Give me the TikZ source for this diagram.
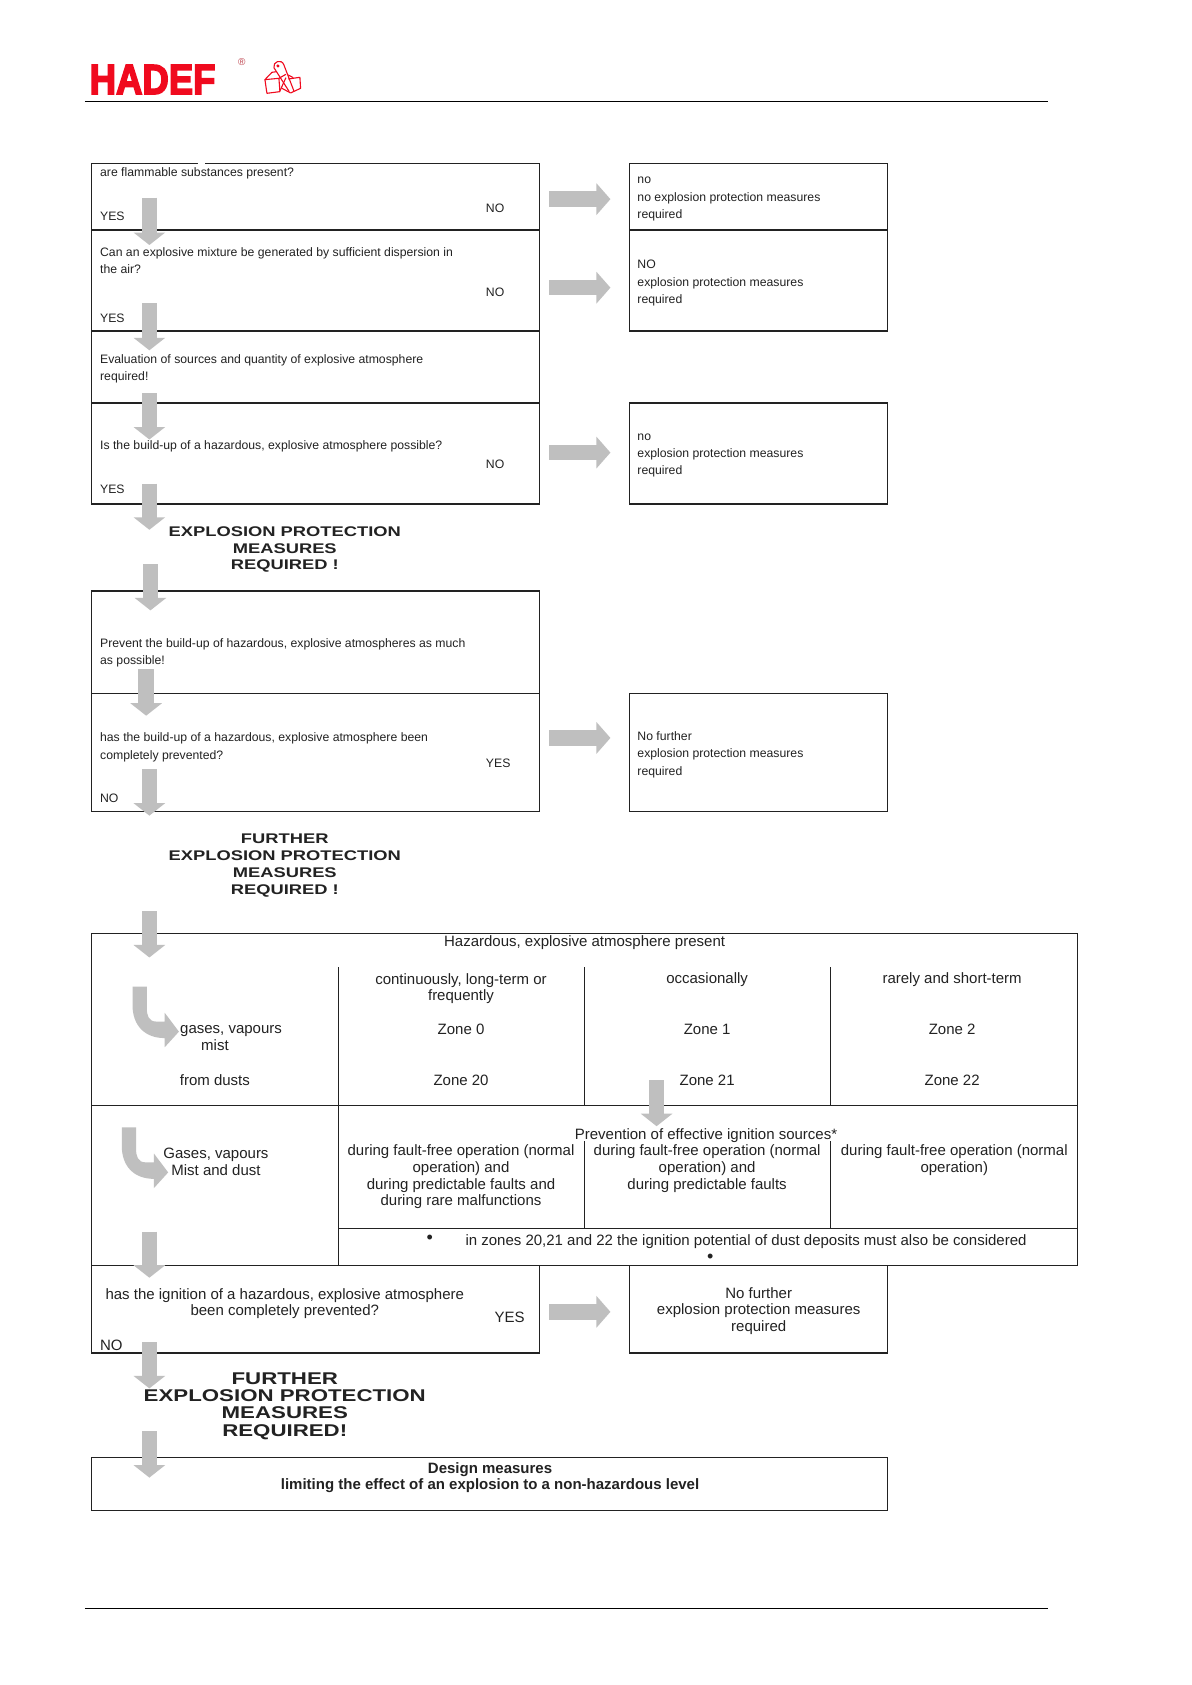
\documentclass[tikz,border=0pt]{standalone}
\usepackage{fontspec}
\setmainfont{Liberation Sans}
\newfontfamily\logofont{Liberation Sans}[BoldFeatures={FakeBold=4}]
\usetikzlibrary{fit,arrows.meta}
\definecolor{inkc}{HTML}{222222}
\definecolor{arrc}{HTML}{BFBFBF}
\definecolor{logoc}{HTML}{F00A1E}
\tikzset{
  boxn/.style={draw=inkc,line width=1.1pt,inner sep=0pt,outer sep=0pt},
  rule/.style={draw=inkc,line width=1.1pt},
  smalltxt/.style={text=inkc,inner sep=0pt,align=left,anchor=west,yshift=-1.5pt,font=\fontsize{12.24}{17.3}\selectfont},
  midtxt/.style={text=inkc,inner sep=0pt,align=center,font=\fontsize{15}{16.8}\selectfont},
  headtxt/.style={text=inkc,inner sep=0pt,align=center,xscale=1.31,font=\fontsize{14}{16.8}\selectfont\bfseries},
  headb/.style={text=inkc,inner sep=0pt,align=center,xscale=1.31,font=\fontsize{17}{17.2}\selectfont\bfseries},
  narrow/.style={text=inkc,inner sep=0pt,align=center,font=\fontsize{15}{16.6}\selectfont},
  dotmark/.style={text=inkc,inner sep=0pt,font=\fontsize{18}{18}\selectfont},
  bridgearr/.style={draw=arrc,line width=15.5pt,-{Triangle[length=14pt,width=31pt]}},
  downarr/.style={draw=arrc,line width=15.5pt,-{Triangle[length=12.5pt,width=31pt]}},
}
\newcommand{\boxn}[5]{\node[boxn,fit={(#2,#3) (#4,#5)}] (#1) {};}
\newcommand{\darr}[4]{\coordinate (#1s) at (#2,#3);\coordinate (#1e) at (#2,#4);\draw[downarr] (#1s) -- (#1e);}
\newcommand{\rarr}[4]{\draw[bridgearr,shorten <=9.6pt,shorten >=19.3pt] ([yshift=#3]#1.east) -- ([yshift=#4]#2.west);}
\newcommand{\curv}[2]{\fill[arrc,shift={(#1,#2)}] (0,0) -- (0,17) .. controls (0,37) and (12,48) .. (30,48) -- (30,56.5) -- (43.2,42) -- (30,24.5) -- (30,32.6) -- (22,32.6) .. controls (15,32.6) and (13.3,27) .. (13.3,20) -- (13.3,0) -- cycle;}
\begin{document}
\begin{tikzpicture}[x=1.07484pt,y=-1.07484pt]
\useasboundingbox (0,0) rectangle (1109,1568);
\fill[white] (0,0) rectangle (1109,1568);
% header and footer
\coordinate (hl) at (79,94); \coordinate (hr) at (975,94);
\draw[black,line width=1pt] (hl) -- (hr);
\coordinate (fl) at (79,1497); \coordinate (fr) at (975,1497);
\draw[black,line width=1pt] (fl) -- (fr);
\node[inner sep=0pt,anchor=center,text=logoc,xscale=.87,font=\fontsize{42}{42}\logofont\bfseries] (logo) at (142,74) {HADEF};
\node[inner sep=0pt,text=logoc!55!gray,font=\fontsize{10}{10}\selectfont] (reg) at (225,58) {®};
\begin{scope}[shift={(74.43,51.17)},x=.3333pt,y=-.3333pt,line join=round]
  \draw[logoc,line width=1.1pt] (555,74) -- (597,70) -- (600,110) -- (561,115) -- cycle;
  \draw[logoc,line width=1.1pt] (555,74) -- (576,52) -- (590,50);
  \draw[logoc,line width=1.1pt] (597,70) -- (618,58);
  \draw[logoc,line width=1.1pt] (625,72) -- (660,67) -- (662,100) -- (632,114);
  \draw[logoc,line width=1.1pt] (640,68) -- (625,60);
  \draw[logoc,line width=1.1pt] (606,100) -- (632,114);
  \draw[logoc,line width=1.1pt] (582,38) .. controls (578,20) and (605,10) .. (612,30) -- (642,108);
  \draw[logoc,line width=1.1pt] (582,38) -- (628,110);
  \draw[logoc,line width=1.1pt] (600,108) -- (618,68);
  \fill[logoc] (594,33) circle (5);
\end{scope}
% left column
\boxn{qa}{85}{152}{502}{214}
\boxn{qb}{85}{214}{502}{308}
\boxn{qc}{85}{308}{502}{375}
\boxn{qd}{85}{375}{502}{469}
\boxn{pa}{85}{550}{502}{645}
\boxn{pb}{85}{645}{502}{755}
\draw[white,line width=1.6pt] (184,152) -- (191,152);
% right column
\boxn{ra}{586}{152}{826}{214}
\boxn{rb}{586}{214}{826}{308}
\boxn{rc}{586}{375}{826}{469}
\boxn{rd}{586}{645}{826}{755}
% table
\boxn{tbl}{85}{869}{1003}{1178}
\coordinate (ha) at (85,1029); \coordinate (hb) at (1003,1029);
\coordinate (hc) at (315,1143); \coordinate (hd) at (1003,1143);
\draw[rule] (ha) -- (hb);
\draw[rule] (hc) -- (hd);
\coordinate (va) at (315,900); \coordinate (vb) at (315,1178);
\coordinate (vc) at (544,900); \coordinate (vd) at (544,1029);
\coordinate (ve) at (773,900); \coordinate (vf) at (773,1029);
\coordinate (vg) at (544,1062); \coordinate (vh) at (544,1143);
\coordinate (vi) at (773,1062); \coordinate (vj) at (773,1143);
\draw[rule] (va) -- (vb);
\draw[rule] (vc) -- (vd);
\draw[rule] (ve) -- (vf);
\draw[rule] (vg) -- (vh);
\draw[rule] (vi) -- (vj);
% lower boxes
\boxn{qe}{85}{1178}{502}{1259}
\boxn{re}{586}{1178}{826}{1259}
\boxn{des}{85}{1356}{826}{1406}
% arrows
\darr{da}{139}{184}{228}
\darr{db}{139}{282}{326}
\darr{dc}{139}{366}{409}
\darr{dd}{139}{450}{493}
\darr{de}{140}{525}{568}
\darr{df}{136}{623}{666}
\darr{dg}{139}{716}{759}
\darr{dh}{139}{848}{891}
\darr{di}{139}{1146}{1189}
\darr{dj}{139}{1249}{1292}
\darr{dk}{139}{1332}{1375}
\darr{dl}{611}{1005}{1048}
\rarr{qa}{ra}{-2.5pt}{-2.5pt}
\rarr{qb}{rb}{-7.2pt}{-7.2pt}
\rarr{qd}{rc}{0.9pt}{0.9pt}
\rarr{pb}{rd}{14.3pt}{14.3pt}
\rarr{qe}{re}{-2.4pt}{-2.4pt}
\curv{123.3}{918}
\curv{113.3}{1049}
% text left column
\node[smalltxt] (t1) at (93,160) {are flammable substances present?};
\node[smalltxt] (t1y) at (93,200) {YES};
\node[smalltxt] (t1n) at (452,192) {NO};
\node[smalltxt] (t2) at (93,241) {Can an explosive mixture be generated by sufficient dispersion in\\the air?};
\node[smalltxt] (t2n) at (452,271) {NO};
\node[smalltxt] (t2y) at (93,295) {YES};
\node[smalltxt] (t3) at (93,341.5) {Evaluation of sources and quantity of explosive atmosphere\\required!};
\node[smalltxt] (t4) at (93,414) {Is the build-up of a hazardous, explosive atmosphere possible?};
\node[smalltxt] (t4n) at (452,431) {NO};
\node[smalltxt] (t4y) at (93,454) {YES};
\node[headtxt] (h1) at (265,511.5) {EXPLOSION PROTECTION\\MEASURES\\REQUIRED !};
\node[smalltxt] (t5) at (93,606) {Prevent the build-up of hazardous, explosive atmospheres as much\\as possible!};
\node[smalltxt] (t6) at (93,694) {has the build-up of a hazardous, explosive atmosphere been\\completely prevented?};
\node[smalltxt] (t6y) at (452,709) {YES};
\node[smalltxt] (t6n) at (93,741) {NO};
\node[headtxt] (h2) at (265,805.5) {FURTHER\\EXPLOSION PROTECTION\\MEASURES\\REQUIRED !};
% text right column
\node[smalltxt] (u1) at (593,184) {no\\no explosion protection measures\\required};
\node[smalltxt] (u2) at (593,262) {NO\\explosion protection measures\\required};
\node[smalltxt] (u3) at (593,422.5) {no\\explosion protection measures\\required};
\node[smalltxt] (u4) at (593,701) {No further\\explosion protection measures\\required};
% table text
\node[midtxt] (c0) at (544,877) {Hazardous, explosive atmosphere present};
\node[midtxt] (c1) at (429,920) {continuously, long-term or\\frequently};
\node[midtxt] (c2) at (658,912) {occasionally};
\node[midtxt] (c3) at (886,912) {rarely and short-term};
\node[midtxt] (z0) at (429,958) {Zone 0};
\node[midtxt] (z1) at (658,958) {Zone 1};
\node[midtxt] (z2) at (886,958) {Zone 2};
\node[midtxt] (z20) at (429,1005) {Zone 20};
\node[midtxt] (z21) at (658,1005) {Zone 21};
\node[midtxt] (z22) at (886,1005) {Zone 22};
\node[midtxt] (g1) at (215,959) {gases, vapours};
\node[midtxt] (g2) at (200,973) {mist};
\node[midtxt] (g3) at (200,1005) {from dusts};
\node[midtxt] (g4) at (201,1081) {Gases, vapours\\Mist and dust};
\node[midtxt] (pv) at (657,1056.5) {Prevention of effective ignition sources*};
\node[midtxt,anchor=north] (f1) at (429,1065) {during fault-free operation (normal\\operation) and\\during predictable faults and\\during rare malfunctions};
\node[midtxt,anchor=north] (f2) at (658,1065) {during fault-free operation (normal\\operation) and\\during predictable faults};
\node[midtxt,anchor=north] (f3) at (888,1065) {during fault-free operation (normal\\operation)};
\node[dotmark] (b1) at (400,1153) {•};
\node[midtxt,anchor=west] (b1t) at (433,1155) {in zones 20,21 and 22 the ignition potential of dust deposits must also be considered};
\node[dotmark] (b2) at (661,1171) {•};
% lower text
\node[narrow] (l1) at (265,1213) {has the ignition of a hazardous, explosive atmosphere\\been completely prevented?};
\node[narrow,anchor=west] (l1y) at (460,1226) {YES};
\node[narrow,anchor=west] (l1n) at (93,1252) {NO};
\node[narrow] (l2) at (706,1220) {No further\\explosion protection measures\\required};
\node[headb] (h3) at (265,1308.5) {FURTHER\\EXPLOSION PROTECTION\\MEASURES\\REQUIRED!};
\node[narrow,font=\fontsize{15}{16.6}\selectfont\bfseries] (d1) at (456,1375) {Design measures\\limiting the effect of an explosion to a non-hazardous level};
\end{tikzpicture}
\end{document}
